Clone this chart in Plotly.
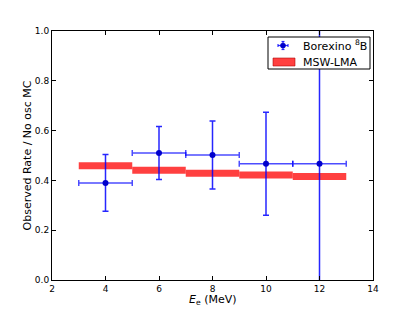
import plotly.graph_objects as go

# Data
bin_centers = [4, 6, 8, 10, 12]
bin_half_width = [1, 1, 1, 1, 1]
borexino_rate = [0.39, 0.51, 0.502, 0.467, 0.467]
borexino_err = [0.114, 0.106, 0.137, 0.207, 0.6]
msw_lma = [0.459, 0.441, 0.429, 0.422, 0.416]
msw_band = [0.028, 0.028, 0.028, 0.028, 0.028]
x_ticks = [2, 4, 6, 8, 10, 12, 14]
y_ticks = [0.0, 0.2, 0.4, 0.6, 0.8, 1.0]
legend_labels = ["Borexino <sup>8</sup>B", "MSW-LMA"]

BLUE_ERR = "rgba(0,0,255,0.8)"
RED_BAND = "rgba(255,0,0,0.75)"

fig = go.Figure()

fig.add_trace(go.Bar(
    x=bin_centers,
    y=msw_band,
    base=[m - b / 2 for m, b in zip(msw_lma, msw_band)],
    width=2,
    name=legend_labels[1],
    marker=dict(color=RED_BAND, line=dict(width=0)),
))

fig.add_trace(go.Scatter(
    x=bin_centers, y=borexino_rate, mode="markers",
    name=legend_labels[0],
    marker=dict(color="#0000cc", size=6, symbol="circle"),
    error_x=dict(type="data", array=bin_half_width, color="rgba(0,0,255,0.7)", thickness=1.5, width=3),
    error_y=dict(type="data", array=borexino_err, color="rgba(0,0,255,0.85)", thickness=1.5, width=3),
))

# ---- legend drawn in the style of the original (pixel layout of plot area) ----
PL, PR, PT, PB = 52, 373, 31, 280


def px(xpix):
    return (xpix - PL) / (PR - PL)


def py(ypix):
    return (PB - ypix) / (PB - PT)


shapes = []
# legend box
shapes.append(dict(type="rect", xref="paper", yref="paper",
                   x0=px(268), x1=px(370), y0=py(69), y1=py(37),
                   fillcolor="white", line=dict(color="black", width=1), layer="above"))
# error-bar symbol
cx, cy = 283, 45.5
for (x0, y0, x1, y1) in [(cx - 5, cy, cx + 5, cy), (cx, cy - 4, cx, cy + 4),
                         (cx - 5, cy - 1.5, cx - 5, cy + 1.5), (cx + 5, cy - 1.5, cx + 5, cy + 1.5),
                         (cx - 1.5, cy - 4, cx + 1.5, cy - 4), (cx - 1.5, cy + 4, cx + 1.5, cy + 4)]:
    shapes.append(dict(type="line", xref="paper", yref="paper",
                       x0=px(x0), y0=py(y0), x1=px(x1), y1=py(y1),
                       line=dict(color=BLUE_ERR, width=1.2), layer="above"))
shapes.append(dict(type="circle", xref="paper", yref="paper",
                   x0=px(cx - 2.6), x1=px(cx + 2.6), y0=py(cy + 2.6), y1=py(cy - 2.6),
                   fillcolor="#0000cc", line=dict(color="#0000cc", width=0.5), layer="above"))
# band symbol
shapes.append(dict(type="rect", xref="paper", yref="paper",
                   x0=px(273), x1=px(295), y0=py(66), y1=py(58),
                   fillcolor=RED_BAND, line=dict(color="rgba(170,0,0,0.8)", width=0.7), layer="above"))

annotations = [
    dict(text=legend_labels[0], x=px(301), y=py(46), xref="paper", yref="paper",
         xanchor="left", yanchor="middle", showarrow=False,
         font=dict(family="DejaVu Sans", size=11, color="black")),
    dict(text=legend_labels[1], x=px(301), y=py(62), xref="paper", yref="paper",
         xanchor="left", yanchor="middle", showarrow=False,
         font=dict(family="DejaVu Sans", size=11, color="black")),
    dict(text="<i>E</i><sub>e</sub> (MeV)", x=0.5, y=0, xref="paper", yref="paper",
         xanchor="center", yanchor="top", yshift=-11, showarrow=False,
         font=dict(family="DejaVu Sans", size=11, color="black")),
]

axis_common = dict(
    showgrid=False, zeroline=False, showline=True, linecolor="black", linewidth=1,
    mirror="ticks", ticks="inside", ticklen=4, tickcolor="black",
    tickfont=dict(family="DejaVu Sans", size=9, color="black"),
)

fig.update_layout(
    width=407, height=304,
    margin=dict(l=44, r=42, t=23, b=32),
    paper_bgcolor="white", plot_bgcolor="white",
    barmode="overlay",
    showlegend=False,
    shapes=shapes,
    annotations=annotations,
    xaxis=dict(range=[2, 14], tickvals=x_ticks, ticktext=[str(v) for v in x_ticks],
               automargin=False, **axis_common),
    yaxis=dict(range=[0, 1], tickvals=y_ticks, ticktext=[f"{v:.1f}" for v in y_ticks],
               automargin=True,
               title=dict(text="Observed Rate / No osc MC", font=dict(family="DejaVu Sans", size=11, color="black"), standoff=1),
               **axis_common),
)

fig.write_html("out.html")
